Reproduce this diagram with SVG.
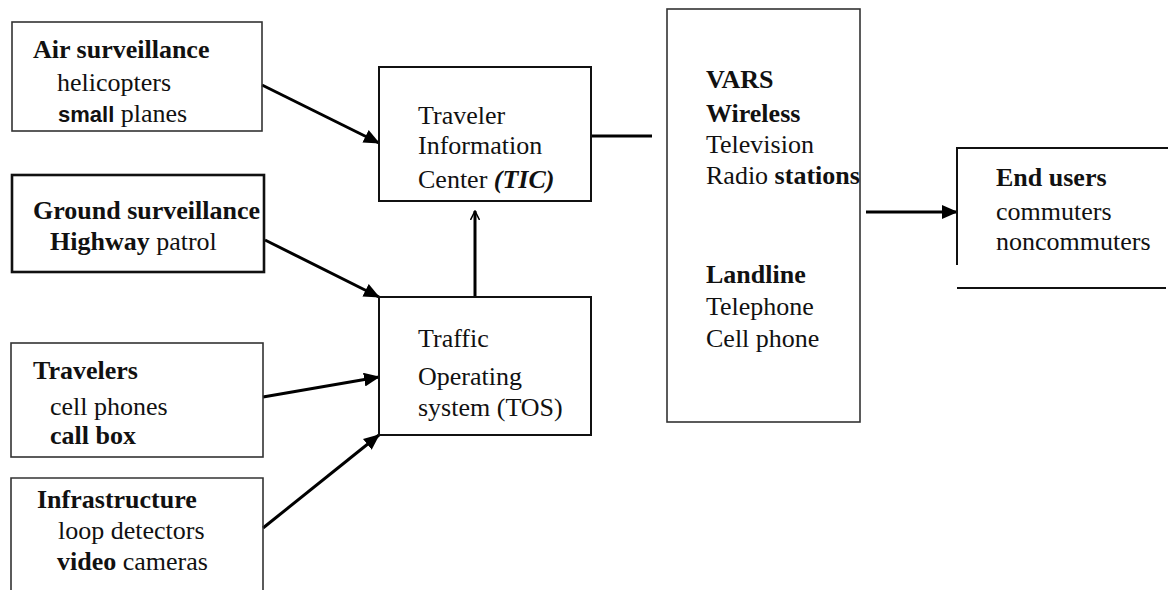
<svg xmlns="http://www.w3.org/2000/svg" width="1168" height="590" viewBox="0 0 1168 590">
<style>
.t{font-family:'Liberation Serif','DejaVu Serif',serif;font-size:26px;fill:#111}
.b{font-weight:bold}
.box{fill:none;stroke:#333;stroke-width:1.6}
.conn{stroke:#000;stroke-width:3;fill:none}
</style>
<defs>
<marker id="ah" markerUnits="userSpaceOnUse" markerWidth="16" markerHeight="14" refX="15" refY="7" orient="auto">
<path d="M0,0 L16,7 L0,14 Z" fill="#000"/>
</marker>
<marker id="ahs" markerUnits="userSpaceOnUse" markerWidth="10" markerHeight="10" refX="9" refY="5" orient="auto">
<path d="M0,0.5 L9,5 L0,9.5" fill="none" stroke="#000" stroke-width="1.5"/>
</marker>
</defs>
<rect width="1168" height="590" fill="#fff"/>
<g id="connectors">
<line class="conn" x1="262" y1="85" x2="379" y2="143" marker-end="url(#ah)"/>
<line class="conn" x1="265" y1="240" x2="379" y2="297" marker-end="url(#ah)"/>
<line class="conn" x1="263" y1="397" x2="379" y2="377" marker-end="url(#ah)"/>
<line class="conn" x1="263" y1="528" x2="379" y2="435" marker-end="url(#ah)"/>
<line class="conn" x1="475" y1="297" x2="475" y2="211" stroke-width="2.5" marker-end="url(#ahs)"/>
<line class="conn" x1="591" y1="136" x2="652" y2="136" stroke-width="2.5"/>
<line class="conn" x1="866" y1="212" x2="957" y2="212" stroke-width="2.5" marker-end="url(#ah)"/>
</g>
<g id="air" class="t" font-family="Liberation Serif, DejaVu Serif, serif">
<rect class="box" x="12" y="22" width="250" height="109"/>
<text x="33" y="58" class="t b">Air surveillance</text>
<text x="57" y="91" class="t">helicopters</text>
<text x="58" y="122" class="t"><tspan style="font-family:'Liberation Sans',Arial,sans-serif;font-weight:bold;font-size:22px">small</tspan> planes</text>
</g>
<g id="ground">
<rect class="box" x="12" y="175" width="252" height="97" style="stroke:#111;stroke-width:2.6"/>
<text x="33" y="219" class="t b">Ground surveillance</text>
<text x="50" y="250" class="t"><tspan class="b">Highway</tspan> patrol</text>
</g>
<g id="travelers">
<rect class="box" x="11" y="343" width="252" height="114"/>
<text x="33" y="379" class="t b">Travelers</text>
<text x="50" y="415" class="t">cell phones</text>
<text x="50" y="444" class="t b">call box</text>
</g>
<g id="infrastructure">
<path class="box" d="M11,592 V478 H263 V592"/>
<text x="37" y="508" class="t b">Infrastructure</text>
<text x="58" y="539" class="t">loop detectors</text>
<text x="57" y="570" class="t"><tspan class="b">video</tspan> cameras</text>
</g>
<g id="tic">
<rect class="box" x="379" y="67" width="212" height="134" style="stroke:#111;stroke-width:2"/>
<text x="418" y="124" class="t">Traveler</text>
<text x="418" y="154" class="t">Information</text>
<text x="418" y="188" class="t">Center <tspan class="b" font-style="italic">(TIC)</tspan></text>
</g>
<g id="tos">
<rect class="box" x="379" y="297" width="212" height="138" style="stroke:#111;stroke-width:2"/>
<text x="418" y="347" class="t">Traffic</text>
<text x="418" y="385" class="t">Operating</text>
<text x="418" y="416" class="t">system (TOS)</text>
</g>
<g id="vars">
<rect class="box" x="667" y="9" width="193" height="413"/>
<text x="706" y="88" class="t b">VARS</text>
<text x="706" y="122" class="t b">Wireless</text>
<text x="706" y="153" class="t">Television</text>
<text x="706" y="184" class="t">Radio <tspan class="b">stations</tspan></text>
<text x="706" y="283" class="t b">Landline</text>
<text x="706" y="315" class="t">Telephone</text>
<text x="706" y="347" class="t">Cell phone</text>
</g>
<g id="endusers">
<path class="box" d="M957,265 V148 H1168 M957,288 H1166" style="stroke:#111;stroke-width:2"/>
<text x="996" y="186" class="t b">End users</text>
<text x="996" y="220" class="t">commuters</text>
<text x="996" y="250" class="t">noncommuters</text>
</g>
</svg>
